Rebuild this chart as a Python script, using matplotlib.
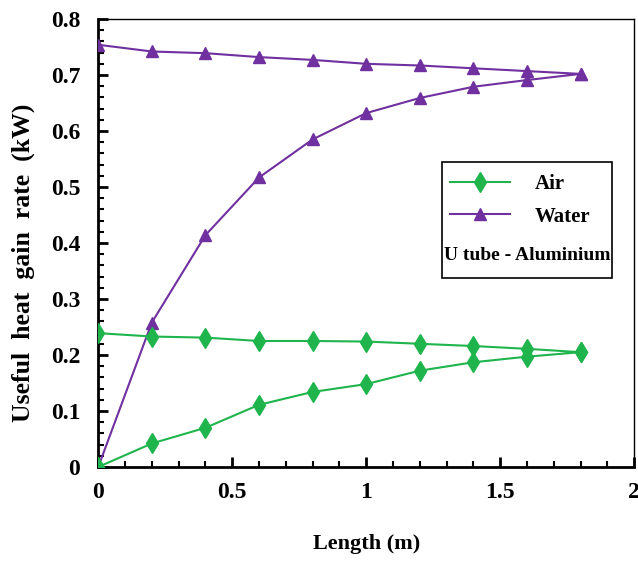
import matplotlib
matplotlib.use("Agg")
import matplotlib.pyplot as plt
from matplotlib.patches import Rectangle
from matplotlib.ticker import MultipleLocator

length = [0, 0.2, 0.4, 0.6, 0.8, 1.0, 1.2, 1.4, 1.6, 1.8]
water_inlet = [0, 0.258, 0.414, 0.517, 0.585, 0.632, 0.659, 0.679, 0.691, 0.702]
water_outlet = [0.754, 0.742, 0.739, 0.732, 0.727, 0.720, 0.717, 0.712, 0.707, 0.702]
air_inlet = [0, 0.042, 0.070, 0.111, 0.134, 0.148, 0.172, 0.187, 0.197, 0.205]
air_outlet = [0.239, 0.233, 0.231, 0.225, 0.225, 0.224, 0.220, 0.216, 0.211, 0.205]
x_ticks = [0, 0.5, 1, 1.5, 2]
x_tick_labels = ["0", "0.5", "1", "1.5", "2"]
y_ticks = [0, 0.1, 0.2, 0.3, 0.4, 0.5, 0.6, 0.7, 0.8]
y_tick_labels = ["0", "0.1", "0.2", "0.3", "0.4", "0.5", "0.6", "0.7", "0.8"]

plt.rcParams['font.family'] = ['Liberation Serif', 'DejaVu Serif']
plt.rcParams['font.weight'] = 'bold'

green = '#1fb54c'
purple = '#7030a0'

fig = plt.figure(figsize=(6.38, 5.61), dpi=100)
ax = fig.add_axes([0.154, 0.1676, 0.840, 0.7985])

# each fluid: inlet leg out to the end, then outlet leg back to x=0
ax.plot(length + length[::-1], water_inlet + water_outlet[::-1], color=purple, lw=1.5,
        marker='^', ms=9, zorder=3)
ax.plot(length + length[::-1], air_inlet + air_outlet[::-1], color=green, lw=1.5,
        marker='d', ms=10, zorder=3)

ax.set_xlim(0, 2)
ax.set_ylim(0, 0.8)
ax.set_xticks(x_ticks)
ax.set_xticklabels(x_tick_labels)
ax.set_yticks(y_ticks)
ax.set_yticklabels(y_tick_labels)
ax.xaxis.set_minor_locator(MultipleLocator(0.1))
ax.yaxis.set_minor_locator(MultipleLocator(0.02))
ax.tick_params(which='both', direction='in', top=False, right=False)
ax.tick_params(which='major', length=7, width=2, labelsize=17)
ax.tick_params(which='minor', length=4, width=1.5)
ax.tick_params(axis='x', pad=11)
ax.tick_params(axis='y', pad=13)
for lab in ax.get_xticklabels() + ax.get_yticklabels():
    lab.set_fontweight('bold')
ax.spines['left'].set_linewidth(2)
ax.spines['bottom'].set_linewidth(2)
ax.spines['top'].set_linewidth(1)
ax.spines['right'].set_linewidth(1)

ax.set_xlabel("Length (m)", fontsize=16, fontweight='bold', labelpad=22)
ax.set_ylabel("Useful  heat  gain  rate  (kW)", fontsize=18.5, fontweight='bold')
ax.yaxis.set_label_coords(-0.118, 0.455)

# Legend box
ax.add_patch(Rectangle((0.642, 0.422), 0.317, 0.259, transform=ax.transAxes,
                       fill=True, facecolor='white', edgecolor='black', lw=1.2, zorder=4))
h1, = ax.plot([], [], color=green, lw=1.5, marker='d', ms=10)
h2, = ax.plot([], [], color=purple, lw=1.5, marker='^', ms=9)
leg = ax.legend([h1, h2], ["Air", "Water"], loc='upper left',
                bbox_to_anchor=(0.640, 0.672), frameon=False, fontsize=15,
                handlelength=2.9, handletextpad=1.2, labelspacing=0.6,
                borderaxespad=0)
leg.set_zorder(5)
for t in leg.get_texts():
    t.set_fontweight('bold')
ax.text(0.800, 0.473, "U tube - Aluminium", transform=ax.transAxes, ha='center',
        va='center', fontsize=14, fontweight='bold', zorder=6)

fig.savefig("out.png", dpi=100)
